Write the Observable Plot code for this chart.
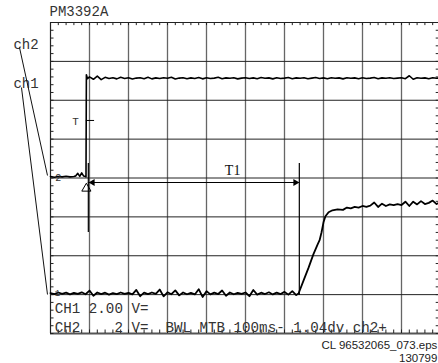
<!DOCTYPE html>
<html><head><meta charset="utf-8">
<style>body{margin:0;background:#fff;} svg{display:block;}</style>
<script src="https://cdn.jsdelivr.net/npm/d3@7"></script>
<script src="https://cdn.jsdelivr.net/npm/@observablehq/plot@0.6"></script>
</head><body><div id="chart"></div>
<script>
// Time axis: ms (100 ms/div), vertical: divisions (2 V/div)
const VPD = 2;            // volts per division
const G1 = 1.03;          // ch1 ground level (div)
const G2 = 4.03;          // ch2 ground level (div)

const ch2T = [0,10,20,30,40,50,60,65,70,75,80,85,90,91,92,95,
  100,110,120,130,140,150,160,170,180,190,
  200,210,220,230,240,250,260,270,280,290,
  300,310,320,330,340,350,360,370,380,390,
  400,410,420,430,440,450,460,470,480,490,
  500,510,520,530,540,550,560,570,580,590,
  600,610,620,630,640,650,660,670,680,690,
  700,710,720,730,740,750,760,770,780,790,
  800,810,820,830,840,850,860,870,880,890,
  900,910,920,930,940,950,960,970,980,990,1000];
const ch2V = [0.02,-0.02,0.02,0,0.03,0,0.02,0.05,0.18,0.02,0.2,0.04,0.02,0,5.25,5.05,
  5.14,5.02,5.18,5.0,5.12,5.06,5.1,5.04,5.12,5.06,
  5.1,5.03,5.08,5.1,5.05,5.12,5.04,5.09,5.06,5.1,
  5.07,5.12,5.03,5.08,5.1,5.05,5.09,5.06,5.11,5.04,
  5.1,5.06,5.08,5.12,5.05,5.09,5.07,5.1,5.04,5.08,
  5.1,5.06,5.09,5.05,5.11,5.07,5.09,5.04,5.1,5.06,
  5.08,5.11,5.05,5.09,5.07,5.1,5.05,5.08,5.11,5.06,
  5.09,5.05,5.1,5.07,5.09,5.04,5.1,5.07,5.09,5.05,
  5.1,5.06,5.08,5.11,5.05,5.09,5.07,5.1,5.06,5.08,
  5.1,5.05,5.2,5.02,5.1,5.07,5.09,5.05,5.1,5.07,5.09];

const ch1T = [0,10,20,30,40,50,60,70,80,90,
  100,110,120,130,140,150,160,170,180,190,
  200,210,220,230,240,250,260,270,280,290,
  300,310,320,330,340,350,360,370,380,390,
  400,410,420,430,440,450,460,470,480,490,
  500,510,520,530,540,550,560,570,580,590,
  600,610,620,630,
  636,649,662,674,685,690,695,700,705,713,723,736,
  750,760,770,780,790,800,810,820,830,840,850,860,870,880,890,
  900,910,920,930,940,950,960,970,980,990,1000];
const ch1V = [0.02,-0.03,0.05,-0.02,0.04,-0.05,0.03,-0.02,0.06,-0.04,
  0.15,-0.12,0.05,-0.03,0.04,-0.06,0.02,-0.03,0.05,-0.02,
  0.03,-0.05,0.18,-0.14,0.04,-0.03,0.05,-0.02,0.2,-0.15,
  0.06,-0.04,0.16,-0.1,0.05,-0.04,0.03,-0.05,0.22,-0.18,
  0.12,-0.05,0.04,-0.03,0.15,-0.12,0.05,-0.04,0.03,-0.02,
  0.05,-0.14,0.18,-0.06,0.04,-0.03,0.06,-0.05,0.04,-0.03,
  0.08,-0.06,0.12,-0.08,
  0,0.67,1.34,2.01,2.53,2.74,3.15,3.66,3.97,4.18,4.28,4.33,
  4.3,4.42,4.38,4.45,4.42,4.5,4.46,4.52,4.68,4.45,4.62,4.5,4.58,4.54,4.6,
  4.55,4.72,4.5,4.72,4.58,4.75,4.6,4.66,4.78,4.6,4.7];

// grid
const vGrid = [100,200,300,400,500,600,700,800,900];
const hGrid = [1,2,3,4,5,6,7];
const minorX = d3.range(0, 1001, 20);
const minorY = d3.range(0, 8.01, 0.2);

// cursors
const cursorT = [97, 638];
const cursorTop = 4.37;
const cursorBottom = [2.60, 0.98];
const arrowLevel = 3.884;

// labels
const title = "PM3392A";
const chLabels = ["ch2", "ch1"];
const line1 = "CH1\u00A02.00\u00A0V=";
const line2 = "CH2\u00A0\u00A0\u00A0\u00A02\u00A0V=\u00A0\u00A0BWL\u00A0MTB\u00A0100ms-\u00A01.04dv\u00A0ch2+";
const caption = ["CL 96532065_073.eps", "130799"];

const ch1 = ch1T.map((t, i) => ({t, y: G1 + ch1V[i] / VPD}));
const ch2 = ch2T.map((t, i) => ({t, y: G2 + ch2V[i] / VPD}));

const mono = "'Liberation Mono', 'DejaVu Sans Mono', monospace";

const chart = Plot.plot({
  width: 438, height: 363,
  marginLeft: 50, marginTop: 22, marginBottom: 30, marginRight: 0,
  x: {domain: [0, 1000], range: [50, 440], axis: null},
  y: {domain: [0, 8], range: [333, 22], axis: null},
  marks: [
    Plot.ruleX(vGrid, {y1: 0, y2: 8, stroke: "#666", strokeWidth: 1.3}),
    Plot.ruleY(hGrid, {x1: 0, x2: 1000, stroke: "#222", strokeWidth: 1}),
    Plot.ruleX([0], {y1: 0, y2: 8, stroke: "#222", strokeWidth: 1.2}),
    Plot.ruleY([8], {x1: 0, x2: 1000, stroke: "#222", strokeWidth: 1.2}),
    Plot.ruleY([0], {x1: 0, x2: 1000, stroke: "#555", strokeWidth: 2}),
    Plot.ruleX(minorX, {y1: 8, y2: 7.92, stroke: "#222", strokeWidth: 1}),
    Plot.ruleX(minorX, {y1: 0, y2: 0.09, stroke: "#222", strokeWidth: 1}),
    Plot.ruleY(minorY, {x1: 0, x2: 9, stroke: "#222", strokeWidth: 1}),
    Plot.ruleY(minorY, {x1: 989, x2: 1000, stroke: "#222", strokeWidth: 1}),
    // traces
    Plot.line(ch2, {x: "t", y: "y", stroke: "#000", strokeWidth: 1.6}),
    Plot.line(ch1, {x: "t", y: "y", stroke: "#000", strokeWidth: 1.8}),
    // cursors
    Plot.ruleX(cursorT, {x: d => d, y1: cursorTop, y2: (d, i) => cursorBottom[i], stroke: "#000", strokeWidth: 1.2}),
    Plot.ruleY([arrowLevel], {x1: cursorT[0], x2: cursorT[1], stroke: "#000", strokeWidth: 1}),
    Plot.dot([{x: cursorT[1] - 10, r: 90}, {x: cursorT[0] + 11, r: -90}], {x: "x", y: arrowLevel, rotate: "r", symbol: "triangle", r: 2.6, fill: "#000", stroke: "none"}),
    Plot.text(["T1"], {x: 467, y: 4.19, fontFamily: "'Liberation Serif', serif", fontSize: 14, fill: "#111"}),
    // trigger
    Plot.dot([{x: 92, y: 3.73}], {x: "x", y: "y", symbol: "triangle", r: 3.4, fill: "none", stroke: "#000", strokeWidth: 1}),
    Plot.ruleY([5.48], {x1: 92, x2: 113, stroke: "#000", strokeWidth: 1}),
    Plot.text(["T"], {x: 64, y: 5.45, fontFamily: mono, fontSize: 11, fill: "#333"}),
    // ground markers
    Plot.text(["2"], {x: 20, y: 4.01, fontFamily: mono, fontSize: 10, fill: "#333"}),
    Plot.text(["1"], {x: 18, y: 1.05, fontFamily: mono, fontSize: 9, fill: "#333"}),
    // channel labels and leaders
    Plot.text(chLabels, {x: -62.8, y: [7.434, 6.431], fontFamily: mono, fontSize: 14, fill: "#333"}),
    Plot.link([{x1: -79.5, y1: 7.357, x2: -7.7, y2: 4.064}, {x1: -74.4, y1: 6.328, x2: -7.7, y2: 1.003}],
      {x1: "x1", y1: "y1", x2: "x2", y2: "y2", stroke: "#111", strokeWidth: 1}),
    // title
    Plot.text([title], {x: -2.6, y: 8.29, textAnchor: "start", fontFamily: mono, fontSize: 14, fill: "#333"}),
    // bottom readout
    Plot.text([line1], {x: 11, y: 0.656, textAnchor: "start", fontFamily: mono, fontSize: 14.2, fill: "#333"}),
    Plot.text([line2], {x: 11, y: 0.167, textAnchor: "start", fontFamily: mono, fontSize: 14.2, fill: "#333"}),
    // caption
    Plot.text(caption, {x: 992, y: [-0.309, -0.643], textAnchor: "end", fontFamily: "'Liberation Sans', Arial, sans-serif", fontSize: 11.5, fill: "#222"})
  ]
});
document.getElementById("chart").appendChild(chart);
</script></body></html>
